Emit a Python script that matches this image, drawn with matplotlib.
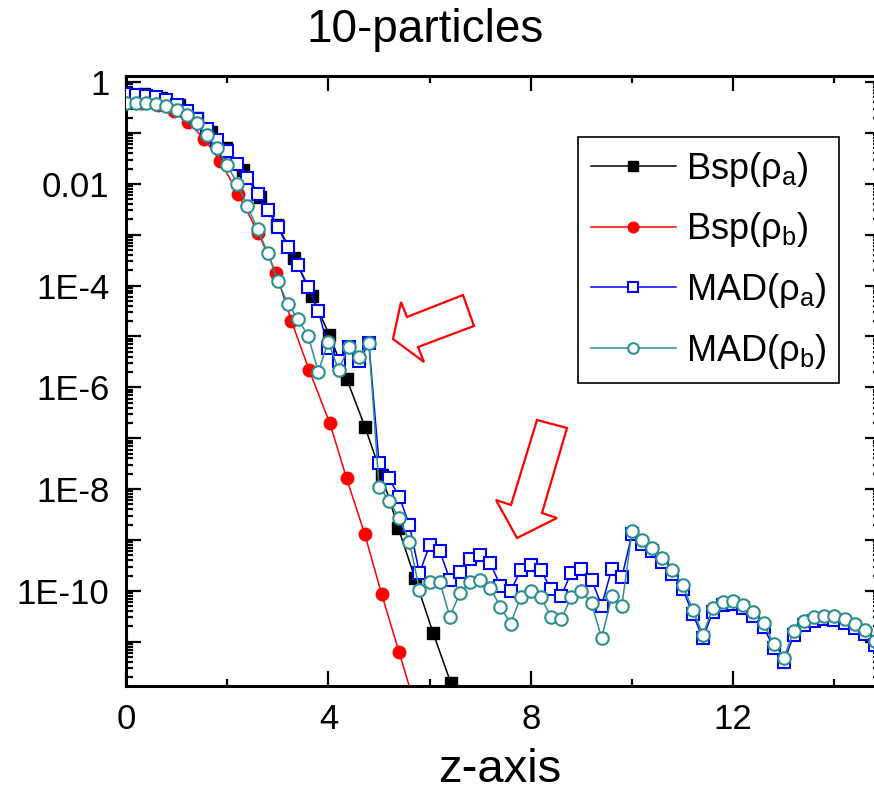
import numpy as np
import matplotlib
matplotlib.use('Agg')
import matplotlib.pyplot as plt
from matplotlib.ticker import FixedLocator, FuncFormatter, LogLocator, MultipleLocator, NullFormatter
from matplotlib.patches import Polygon

plt.rcParams['font.family'] = ['Liberation Sans', 'DejaVu Sans']
plt.rcParams['mathtext.fontset'] = 'custom'
plt.rcParams['mathtext.rm'] = 'Liberation Sans'

# ---------------- data (log10 of density) ----------------
mad_z = [0.0, 0.2, 0.4, 0.6, 0.8, 1.0, 1.2, 1.4, 1.6, 1.8, 2.0, 2.2, 2.4, 2.6, 2.8, 3.0,
         3.2, 3.4, 3.6, 3.8, 4.0, 4.2, 4.4, 4.6, 4.8, 5.0, 5.2, 5.4, 5.6, 5.8, 6.0, 6.2,
         6.4, 6.6, 6.8, 7.0, 7.2, 7.4, 7.6, 7.8, 8.0, 8.2, 8.4, 8.6, 8.8, 9.0, 9.2, 9.4,
         9.6, 9.8, 10.0, 10.2, 10.4, 10.6, 10.8, 11.0, 11.2, 11.4, 11.6, 11.8, 12.0, 12.2,
         12.4, 12.6, 12.8, 13.0, 13.2, 13.4, 13.6, 13.8, 14.0, 14.2, 14.4, 14.6, 14.8, 15.0]
mad_a_log = [-0.24, -0.25, -0.27, -0.30, -0.36, -0.45, -0.57, -0.73, -0.93, -1.14, -1.36, -1.60,
             -1.89, -2.20, -2.51, -2.85, -3.24, -3.60, -4.02, -4.49, -5.23, -5.49, -5.20, -5.49,
             -5.13, -7.49, -7.79, -8.15, -8.70, -9.65, -9.10, -9.21, -9.78, -9.62, -9.38, -9.30,
             -9.46, -9.90, -10.01, -9.59, -9.49, -9.59, -9.97, -10.10, -9.64, -9.57, -9.78, -10.29,
             -9.57, -9.73, -8.88, -9.07, -9.22, -9.43, -9.67, -9.96, -10.45, -10.93, -10.41, -10.28,
             -10.26, -10.34, -10.49, -10.71, -11.12, -11.40, -10.86, -10.68, -10.59, -10.56, -10.57,
             -10.63, -10.73, -10.85, -11.06, -11.50]
mad_b_log = [-0.42, -0.42, -0.42, -0.43, -0.47, -0.54, -0.65, -0.80, -1.04, -1.30, -1.63, -2.00,
             -2.44, -2.89, -3.35, -3.91, -4.36, -4.66, -4.99, -5.69, -5.10, -5.66, -5.21, -5.40,
             -5.12, -7.95, -8.23, -8.57, -9.03, -9.98, -9.82, -9.82, -10.51, -10.04, -9.82, -9.79,
             -9.95, -10.31, -10.65, -10.12, -10.01, -10.12, -10.52, -10.56, -10.12, -10.01, -10.24,
             -10.93, -10.11, -10.29, -8.83, -9.00, -9.15, -9.36, -9.59, -9.88, -10.37, -10.86,
             -10.34, -10.21, -10.19, -10.27, -10.41, -10.63, -11.04, -11.32, -10.78, -10.60, -10.52,
             -10.49, -10.50, -10.56, -10.65, -10.77, -10.98, -11.40]

bsp_a_z = [0.0, 0.35, 0.7, 1.05, 1.4, 1.67, 1.98, 2.32, 2.65, 2.99, 3.33, 3.67, 4.02, 4.36,
           4.72, 5.05, 5.38, 5.71, 6.07, 6.42, 6.76]
bsp_a_log = [-0.22, -0.24, -0.31, -0.45, -0.70, -0.98, -1.30, -1.72, -2.25, -2.81, -3.45, -4.20,
             -4.97, -5.83, -6.77, -7.72, -8.76, -9.75, -10.83, -11.81, -12.80]

bsp_b_z = [0.0, 0.32, 0.63, 0.94, 1.23, 1.55, 1.86, 2.22, 2.61, 2.97, 3.27, 3.62, 4.03, 4.36,
           4.72, 5.05, 5.40, 5.74]
bsp_b_log = [-0.40, -0.41, -0.45, -0.57, -0.78, -1.12, -1.55, -2.20, -2.96, -3.76, -4.70, -5.66,
             -6.71, -7.79, -8.89, -10.06, -11.21, -12.35]

labels = ['Bsp(ρ$_\\mathregular{a}$)', 'Bsp(ρ$_\\mathregular{b}$)',
          'MAD(ρ$_\\mathregular{a}$)', 'MAD(ρ$_\\mathregular{b}$)']
title = '10-particles'
xlabel = 'z-axis'

# ---------------- figure ----------------
W, H = 874, 796
fig = plt.figure(figsize=(W / 100, H / 100), dpi=100)
ax_l, ax_r, ax_t, ax_b = 126, 880, 76, 686
ax = fig.add_axes([ax_l / W, 1 - ax_b / H, (ax_r - ax_l) / W, (ax_b - ax_t) / H])

teal = '#2b8f8f'
lw = 1.1
ax.plot(bsp_a_z, 10 ** np.array(bsp_a_log), color='black', lw=lw, marker='s', ms=8,
        mfc='black', mec='black', label=labels[0], zorder=3)
ax.plot(bsp_b_z, 10 ** np.array(bsp_b_log), color='#ff0000', lw=lw, marker='o', ms=9,
        mfc='#ff0000', mec='#ff0000', label=labels[1], zorder=4)
ax.plot(mad_z, 10 ** np.array(mad_a_log), color='#0000ff', lw=lw, marker='s', ms=8.5,
        mfc='white', mec='#0000ff', mew=1.5, label=labels[2], zorder=5)
ax.plot(mad_z, 10 ** np.array(mad_b_log), color=teal, lw=lw, marker='o', ms=9,
        mfc='white', mec=teal, mew=1.5, label=labels[3], zorder=6)

ax.set_yscale('log')
ax.set_xlim(0, (ax_r - ax_l) / 50.6)
ax.set_ylim(10 ** -11.87, 10 ** 0.12)

# ticks
ax.xaxis.set_major_locator(MultipleLocator(4))
ax.xaxis.set_minor_locator(MultipleLocator(2))
ax.yaxis.set_major_locator(FixedLocator([10.0 ** (-k) for k in range(0, 12)]))


def yfmt(v, pos):
    k = int(round(-np.log10(v)))
    if k % 2:
        return ''
    if k == 0:
        return '1'
    if k == 2:
        return '0.01'
    return '1E-%d' % k


ax.yaxis.set_major_formatter(FuncFormatter(yfmt))
ax.yaxis.set_minor_locator(LogLocator(base=10, subs=np.arange(2, 10) * 1.0, numticks=200))
ax.yaxis.set_minor_formatter(NullFormatter())
ax.tick_params(which='both', direction='in', top=True, right=True, width=1.6, labelsize=25)
ax.tick_params(which='major', length=11, pad=12)
ax.tick_params(which='minor', length=5)
for s in ax.spines.values():
    s.set_linewidth(2.2)

# legend
lx0 = (578 - ax_l) / (ax_r - ax_l)
ly0 = (ax_b - 137) / (ax_b - ax_t)
leg = ax.legend(loc='upper left', bbox_to_anchor=(lx0, ly0), borderaxespad=0,
                fontsize=26, handlelength=2.35, handletextpad=0.3, labelspacing=0.6,
                borderpad=0.35, fancybox=False, framealpha=1, edgecolor='black',
                markerscale=0.85)
leg.get_frame().set_linewidth(1.2)
leg.set_zorder(10)

# titles
fig.text(425 / W, 1 - 30 / H, title, ha='center', va='center', fontsize=33)
fig.text(500 / W, 1 - 770 / H, xlabel, ha='center', va='center', fontsize=34)


# hollow red block arrows (annotation)
def fpoly(pts):
    return [(x / W, 1 - y / H) for x, y in pts]


arrow1 = [(393, 339), (401, 302), (407, 317), (463, 295), (474, 326), (418, 347), (424, 362)]
arrow2 = [(517, 538), (496, 500), (511, 505), (537, 420), (567, 428), (542, 513), (557, 518)]
for pts in (arrow1, arrow2):
    fig.patches.append(Polygon(fpoly(pts), closed=True, transform=fig.transFigure,
                               facecolor='white', edgecolor='#ff0000', lw=1.6, zorder=20))

fig.savefig('out.png', dpi=100)
